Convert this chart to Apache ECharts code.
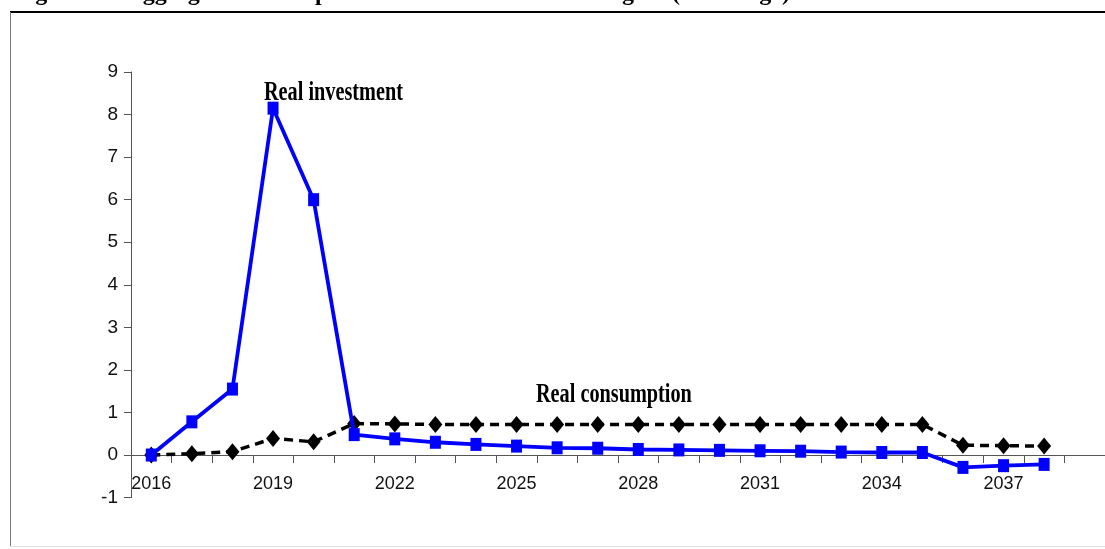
<!DOCTYPE html>
<html>
<head>
<meta charset="utf-8">
<script src="https://cdn.jsdelivr.net/npm/echarts@6/dist/echarts.min.js"></script>
<style>
html,body{margin:0;padding:0;background:#fff;}
#c{width:1105px;height:549px;}
</style>
</head>
<body>
<div id="c"></div>
<script>
// ---- data ----
const years = ['2016','2017','2018','2019','2020','2021','2022','2023','2024','2025','2026','2027',
               '2028','2029','2030','2031','2032','2033','2034','2035','2036','2037','2038','2039'];
const realInvestment = [0, 0.78, 1.55, 8.15, 6.0, 0.48, 0.38, 0.30, 0.25, 0.21, 0.17, 0.16,
                        0.13, 0.12, 0.11, 0.10, 0.09, 0.07, 0.06, 0.06, -0.29, -0.25, -0.22];
const realConsumption = [0, 0.03, 0.08, 0.39, 0.31, 0.74, 0.73, 0.72, 0.72, 0.72, 0.72, 0.72,
                         0.72, 0.72, 0.72, 0.72, 0.72, 0.72, 0.72, 0.72, 0.23, 0.22, 0.21];
const yTicks = {min: -1, max: 9, interval: 1};
const titleText = 'Figure 10: Aggregate consumption and investment in the region (% change)';
const labelInvestment = 'Real investment';
const labelConsumption = 'Real consumption';

const chart = echarts.init(document.getElementById('c'), null, {renderer: 'canvas'});
const axisFont = '"Liberation Sans", Arial, sans-serif';
const serif = '"Liberation Serif", "Times New Roman", serif';

chart.setOption({
  backgroundColor: '#ffffff',
  animation: false,
  grid: {left: 131, right: 0, top: 72, bottom: 51.4, containLabel: false},
  xAxis: {
    type: 'category',
    data: years,
    boundaryGap: true,
    axisLine: {onZero: true, lineStyle: {color: '#555', width: 1}},
    axisTick: {show: true, interval: 0, length: 8, lineStyle: {color: '#555'}},
    axisLabel: {interval: 2, margin: -23, color: '#111', fontSize: 18, fontFamily: axisFont},
    splitLine: {show: false}
  },
  yAxis: {
    type: 'value',
    min: yTicks.min, max: yTicks.max, interval: yTicks.interval,
    axisLine: {show: true, lineStyle: {color: '#555', width: 1}},
    axisTick: {show: true, length: 7, lineStyle: {color: '#555'}},
    axisLabel: {margin: 13, color: '#111', fontSize: 19, fontFamily: axisFont},
    splitLine: {show: false}
  },
  series: [
    {
      name: labelConsumption,
      type: 'line',
      data: realConsumption,
      symbol: 'diamond',
      symbolSize: [14, 17],
      itemStyle: {color: '#000'},
      lineStyle: {color: '#000', width: 3.5, type: [9, 6]},
      z: 3
    },
    {
      name: labelInvestment,
      type: 'line',
      data: realInvestment,
      symbol: 'rect',
      symbolSize: [11, 13],
      itemStyle: {color: '#0000ff'},
      lineStyle: {color: '#0000ff', width: 3.8},
      z: 4
    }
  ],
  graphic: [
    {type: 'line', shape: {x1: 10, y1: 12, x2: 1105, y2: 12}, style: {stroke: '#000', lineWidth: 2}},
    {type: 'line', shape: {x1: 10.5, y1: 12, x2: 10.5, y2: 546}, style: {stroke: '#777', lineWidth: 1}},
    {type: 'line', shape: {x1: 10, y1: 546.5, x2: 1105, y2: 546.5}, style: {stroke: '#ddd', lineWidth: 1}},
    {type: 'text', x: 14, y: -6,
     style: {text: titleText, fill: '#000', font: 'bold 24px ' + serif, textAlign: 'left', textVerticalAlign: 'middle'}},
    {type: 'text', x: 264, y: 93, scaleX: 0.75,
     style: {text: labelInvestment, fill: '#000', font: 'bold 27px ' + serif, textAlign: 'left', textVerticalAlign: 'middle'}},
    {type: 'text', x: 536, y: 395, scaleX: 0.75,
     style: {text: labelConsumption, fill: '#000', font: 'bold 27px ' + serif, textAlign: 'left', textVerticalAlign: 'middle'}}
  ]
});
</script>
</body>
</html>
